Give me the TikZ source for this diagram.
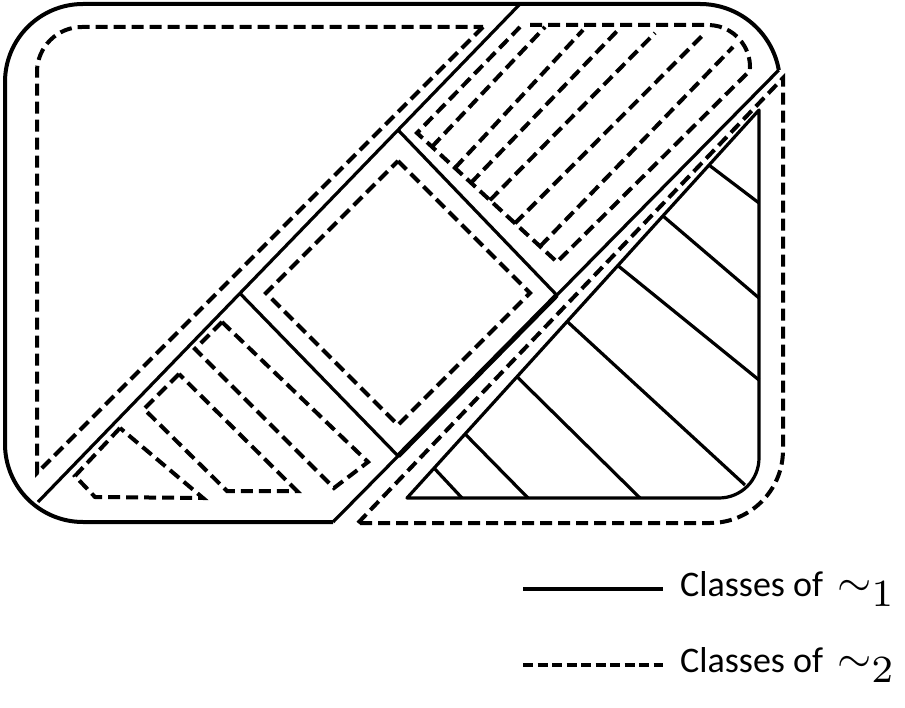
\documentclass[tikz,border=0pt]{standalone}
\usepackage{fontspec}
\newfontfamily\legendfont{Carlito}
\usetikzlibrary{calc,positioning}
\newcommand{\simsym}[1]{{\fontsize{10}{12}\selectfont\scalebox{4.4}{$\sim_{\scalebox{1.25}{$\scriptstyle #1$}}$}}}

\begin{document}
\begin{tikzpicture}[x=1pt, y=-1pt,
    solidline/.style={line width=3.2pt},
    dashline/.style={line width=4pt, dash pattern=on 12pt off 6pt},
    legendtext/.style={font={\fontsize{36}{40}\legendfont}, inner sep=0pt}]
    \useasboundingbox (0,0) rectangle (905,708);

    \draw[solidline, line width=4pt, rounded corners=78pt] (333,522) -- (5,522) -- (5,4) -- (700,4);
    \draw[solidline, line width=4pt] (700,4) arc[start angle=90, end angle=10, radius=80pt] coordinate (b2);
    \coordinate (b1) at (333,522);
    \coordinate (a1) at (38,502);
    \coordinate (a2) at (520,4);
    \draw[solidline] (a1) -- (a2);
    \draw[solidline] (b1) -- (b2);
    \coordinate (a3) at ($(a1)!0.419!(a2)$);
    \coordinate (a4) at ($(a1)!0.747!(a2)$);
    \coordinate (b3) at ($(b1)!0.146!(b2)$);
    \coordinate (b4) at ($(b1)!0.502!(b2)$);
    \draw[solidline] (a3) -- (b3);
    \draw[solidline] (a4) -- (b4);
    \draw[solidline, line width=5pt] (b3) -- (b4);

    \coordinate (t1) at (407,498);
    \coordinate (t2) at (759,110);
    \draw[solidline, line join=round] (t1) -- (t2) -- (759,458) arc[start angle=0, end angle=-90, radius=40pt] -- cycle;
    \foreach \s/\ex/\ey in {0.858/759/203, 0.727/759/298, 0.599/759/380, 0.455/745/485,
                            0.3125/640/498, 0.165/528/498, 0.077/462/498}
        \draw[solidline] ($(t1)!\s!(t2)$) -- (\ex,\ey);

    \draw[dashline] (483,27) -- (37,473) -- (37,72) arc[start angle=180, end angle=90, radius=45pt] -- cycle;
    \draw[dashline] (358,523) -- (783,78) -- (783,450) arc[start angle=0, end angle=-90, radius=73pt] -- cycle;
    \draw[dashline] (398,161) -- (530,293) -- (398,425) -- (266,293) -- cycle;

    \coordinate (e1) at (417,133);
    \coordinate (e2) at (557,262);
    \draw[dashline] (530,25) -- (708,25) arc[start angle=90, end angle=-5, radius=42pt] -- (e2) -- (e1) -- (520,27);
    \foreach \t/\tx/\ty in {0.107/545/27, 0.271/583/30, 0.386/620/28, 0.521/655/33, 0.70/705/33, 0.879/733/47}
        \draw[dashline] ($(e1)!\t!(e2)$) -- (\tx,\ty);

    \draw[dashline] (222,322) -- (195,349) -- (334,488) -- (368,462) -- cycle;
    \draw[dashline] (179,374) -- (144,409) -- (227,491) -- (297,491) -- cycle;
    \draw[dashline] (120,428) -- (75,476) -- (95,497) -- (203,498) -- cycle;

    \coordinate (k1) at (523,589);
    \coordinate (k2) at (663,589);
    \coordinate (k3) at (523,665);
    \coordinate (k4) at (663,665);
    \draw[solidline] (k1) -- (k2);
    \draw[dashline, dash pattern=on 10pt off 4.5pt] (k3) -- (k4);
    \node[legendtext, right=17pt of k2] (lab1) {Classes of\hspace{14pt}\simsym{1}};
    \node[legendtext, right=17pt of k4] (lab2) {Classes of\hspace{14pt}\simsym{2}};
\end{tikzpicture}
\end{document}
